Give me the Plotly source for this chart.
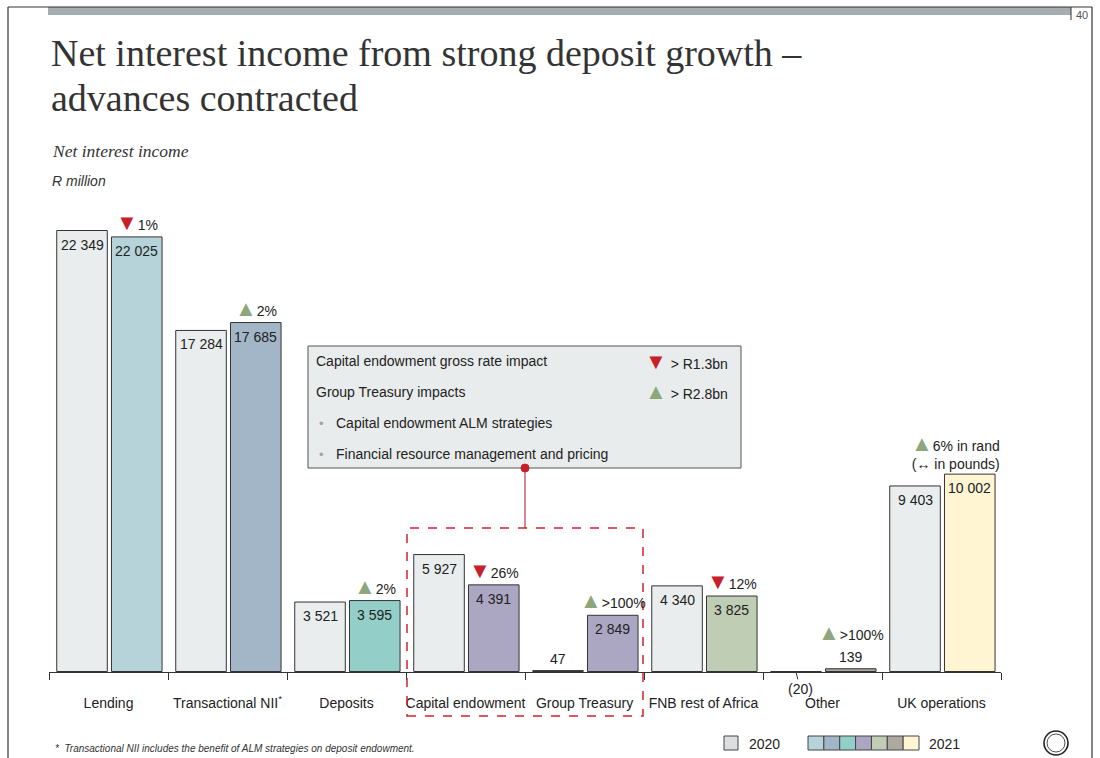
import plotly.graph_objects as go

# ---- data -------------------------------------------------------------
categories = ["Lending", "Transactional NII", "Deposits", "Capital endowment",
              "Group Treasury", "FNB rest of Africa", "Other", "UK operations"]
tick_labels = ["Lending", "Transactional NII<sup>*</sup>", "Deposits", "Capital endowment",
               "Group Treasury", "FNB rest of Africa", "Other", "UK operations"]
nii_2020 = [22349, 17284, 3521, 5927, 47, 4340, -20, 9403]
nii_2021 = [22025, 17685, 3595, 4391, 2849, 3825, 139, 10002]
change_dir = ["down", "up", "up", "down", "up", "down", "up", "up"]
change_text = ["1%", "2%", "2%", "26%", ">100%", "12%", ">100%",
               "6% in rand<br>(\u2194 in pounds)"]

callout_rows = ["Capital endowment gross rate impact", "Group Treasury impacts",
                "Capital endowment ALM strategies", "Financial resource management and pricing"]
callout_values = ["> R1.3bn", "> R2.8bn", "", ""]
callout_dirs = ["down", "up", "", ""]

# ---- styling ----------------------------------------------------------
color_2020 = "#E9EDED"
colors_2021 = ["#B5D3D8", "#A2B6C8", "#93CEC8", "#ABA6C2", "#ABA6C2",
               "#BECDB4", "#ADA9A0", "#FFF5D3"]
legend_2021 = ["#B5D3D8", "#A2B6C8", "#93CEC8", "#ABA6C2", "#BECDB4", "#ADA9A0", "#FFF5D3"]
RED = "#C8202A"
GREEN = "#8CA77B"
TEXT = "#222222"
SANS = "Liberation Sans, Arial, sans-serif"
SERIF = "Liberation Serif, DejaVu Serif, serif"
FS = 14

W = 1100
H = 758
PLOT_L, PLOT_R, PLOT_T, PLOT_B = 49, 1001, 100, 672
PX_PER_UNIT = 441 / 22349
Y_MIN = -25
Y_MAX = Y_MIN + (PLOT_B - PLOT_T) / PX_PER_UNIT

BAR_W = 0.425
OFF_20 = -0.435
OFF_21 = 0.025


def px(x):
    return (x - PLOT_L) / (PLOT_R - PLOT_L)


def py(y):
    return (PLOT_B - y) / (PLOT_B - PLOT_T)


def fmt(v):
    s = f"{abs(v):,}".replace(",", " ")
    return f"({s})" if v < 0 else s


def tri(d):
    if d == "down":
        return f'<span style="color:{RED};font-size:22px">\u25BC</span>'
    if d == "up":
        return f'<span style="color:{GREEN};font-size:22px">\u25B2</span>'
    return ""


fig = go.Figure()
fig.add_trace(go.Bar(
    x=categories, y=nii_2020, width=BAR_W, offset=OFF_20,
    marker=dict(color=color_2020, line=dict(color="#333333", width=1)),
    name="2020", hoverinfo="skip"))
fig.add_trace(go.Bar(
    x=categories, y=nii_2021, width=BAR_W, offset=OFF_21,
    marker=dict(color=colors_2021, line=dict(color="#333333", width=1)),
    name="2021", hoverinfo="skip"))

annotations = []
shapes = []

# value labels on each bar
for series, off in ((nii_2020, OFF_20), (nii_2021, OFF_21)):
    for i, v in enumerate(series):
        xc = i + off + BAR_W / 2
        if v < 0:
            annotations.append(dict(
                x=xc, y=v, xref="x", yref="y", text=fmt(v), showarrow=True,
                arrowhead=0, arrowwidth=1, arrowcolor="#333333", ax=4, ay=17,
                standoff=0, font=dict(family=SANS, size=FS, color=TEXT)))
        elif v < 600:
            annotations.append(dict(
                x=xc, y=v, xref="x", yref="y", text=fmt(v), showarrow=False,
                yanchor="bottom", yshift=2, font=dict(family=SANS, size=FS, color=TEXT)))
        else:
            annotations.append(dict(
                x=xc, y=v, xref="x", yref="y", text=fmt(v), showarrow=False,
                yanchor="top", yshift=-4, font=dict(family=SANS, size=FS, color=TEXT)))

# year-on-year change markers above the 2021 bars
for i, v in enumerate(nii_2021):
    xc = i + OFF_21 + BAR_W / 2
    shift = 22 if v < 600 else 0
    xshift = -14 if "<br>" in change_text[i] else 0
    annotations.append(dict(
        x=xc, y=v, xref="x", yref="y",
        text=tri(change_dir[i]) + change_text[i], showarrow=False,
        yanchor="bottom", yshift=shift, xshift=xshift, align="right",
        font=dict(family=SANS, size=FS, color=TEXT)))

# title block
annotations.append(dict(x=px(49), y=py(53), xref="paper", yref="paper", xanchor="left",
                        yanchor="middle", showarrow=False,
                        text="Net interest income from strong deposit growth \u2013",
                        font=dict(family=SERIF, size=38, color="#333333")))
annotations.append(dict(x=px(49), y=py(98), xref="paper", yref="paper", xanchor="left",
                        yanchor="middle", showarrow=False, text="advances contracted",
                        font=dict(family=SERIF, size=38, color="#333333")))
annotations.append(dict(x=px(50), y=py(151), xref="paper", yref="paper", xanchor="left",
                        yanchor="middle", showarrow=False, text="<i>Net interest income</i>",
                        font=dict(family=SERIF, size=17.5, color="#333333")))
annotations.append(dict(x=px(50), y=py(181), xref="paper", yref="paper", xanchor="left",
                        yanchor="middle", showarrow=False, text="<i>R million</i>",
                        font=dict(family=SANS, size=14, color="#333333")))

# page number
annotations.append(dict(x=px(1082), y=py(15), xref="paper", yref="paper", xanchor="center",
                        yanchor="middle", showarrow=False, text="40",
                        font=dict(family=SANS, size=11, color="#555555")))

# callout box
BOX_L, BOX_R, BOX_T, BOX_B = 308, 741, 346, 468
shapes.append(dict(type="rect", xref="paper", yref="paper", x0=px(BOX_L), x1=px(BOX_R),
                   y0=py(BOX_B), y1=py(BOX_T), fillcolor="#E9ECEC",
                   line=dict(color="#555555", width=1), layer="above"))
row_y = [361, 392, 423, 454]
for k, label in enumerate(callout_rows):
    if k < 2:
        annotations.append(dict(x=px(314), y=py(row_y[k]), xref="paper", yref="paper",
                                xanchor="left", yanchor="middle", showarrow=False, text=label,
                                font=dict(family=SANS, size=FS, color=TEXT)))
    else:
        annotations.append(dict(x=px(317), y=py(row_y[k]), xref="paper", yref="paper",
                                xanchor="left", yanchor="middle", showarrow=False,
                                text='<span style="color:#A0A4A6">\u2022</span>',
                                font=dict(family=SANS, size=13, color=TEXT)))
        annotations.append(dict(x=px(334), y=py(row_y[k]), xref="paper", yref="paper",
                                xanchor="left", yanchor="middle", showarrow=False, text=label,
                                font=dict(family=SANS, size=FS, color=TEXT)))
    if callout_values[k]:
        annotations.append(dict(x=px(730), y=py(row_y[k]), xref="paper", yref="paper",
                                xanchor="right", yanchor="middle", showarrow=False,
                                text=tri(callout_dirs[k]) + " " + callout_values[k],
                                font=dict(family=SANS, size=FS, color=TEXT)))

# dashed highlight around capital endowment and group treasury
shapes.append(dict(type="rect", xref="paper", yref="paper", x0=px(407), x1=px(643),
                   y0=py(716), y1=py(528), line=dict(color="#D0232B", width=1.5, dash="dash")))
shapes.append(dict(type="line", xref="paper", yref="paper", x0=px(525), x1=px(525),
                   y0=py(468), y1=py(528), line=dict(color="#9B1B22", width=1)))
shapes.append(dict(type="circle", xref="paper", yref="paper", x0=px(521), x1=px(529),
                   y0=py(472), y1=py(464), fillcolor=RED, line=dict(color=RED, width=1),
                   layer="above"))

# header band and page frame
shapes.append(dict(type="rect", xref="paper", yref="paper", x0=px(48), x1=px(1071),
                   y0=py(15), y1=py(7), fillcolor="#A5ADB1", line=dict(width=0)))
shapes.append(dict(type="line", xref="paper", yref="paper", x0=px(8), x1=px(1092),
                   y0=py(7), y1=py(7), line=dict(color="#333333", width=1.2)))
shapes.append(dict(type="line", xref="paper", yref="paper", x0=px(1071), x1=px(1071),
                   y0=py(7), y1=py(20), line=dict(color="#333333", width=1)))
shapes.append(dict(type="line", xref="paper", yref="paper", x0=px(1092), x1=px(1092),
                   y0=py(7), y1=py(760), line=dict(color="#333333", width=1.2)))
shapes.append(dict(type="line", xref="paper", yref="paper", x0=px(8), x1=px(8),
                   y0=py(7), y1=py(760), line=dict(color="#333333", width=1.2)))

# legend swatches
shapes.append(dict(type="rect", xref="paper", yref="paper", x0=px(724), x1=px(738),
                   y0=py(750), y1=py(736), fillcolor="#DCDFDF",
                   line=dict(color="#444444", width=1)))
annotations.append(dict(x=px(747), y=py(744), xref="paper", yref="paper", xanchor="left",
                        yanchor="middle", showarrow=False, text="2020",
                        font=dict(family=SANS, size=FS, color=TEXT)))
sw_x = 808
sw_w = 111 / len(legend_2021)
for j, c in enumerate(legend_2021):
    shapes.append(dict(type="rect", xref="paper", yref="paper",
                       x0=px(sw_x + j * sw_w), x1=px(sw_x + (j + 1) * sw_w),
                       y0=py(750), y1=py(736), fillcolor=c,
                       line=dict(color="#444444", width=1)))
annotations.append(dict(x=px(927), y=py(744), xref="paper", yref="paper", xanchor="left",
                        yanchor="middle", showarrow=False, text="2021",
                        font=dict(family=SANS, size=FS, color=TEXT)))

# emblem
shapes.append(dict(type="circle", xref="paper", yref="paper", x0=px(1044), x1=px(1068),
                   y0=py(755), y1=py(731), line=dict(color="#222222", width=1.6)))
shapes.append(dict(type="circle", xref="paper", yref="paper", x0=px(1047), x1=px(1065),
                   y0=py(752), y1=py(734), line=dict(color="#222222", width=0.8)))

# footnote
annotations.append(dict(x=px(53), y=py(748), xref="paper", yref="paper", xanchor="left",
                        yanchor="middle", showarrow=False,
                        text="<i>*  Transactional NII includes the benefit of ALM strategies on deposit endowment.</i>",
                        font=dict(family=SANS, size=10, color="#333333")))

fig.update_layout(
    width=W, height=H,
    margin=dict(l=PLOT_L, r=W - PLOT_R, t=PLOT_T, b=H - PLOT_B, autoexpand=False),
    paper_bgcolor="white", plot_bgcolor="white",
    showlegend=False, barmode="overlay",
    annotations=annotations, shapes=shapes,
    xaxis=dict(type="category", tickmode="array", tickvals=categories, ticktext=tick_labels,
               showline=True, linecolor="#333333", linewidth=1,
               ticks="outside", ticklen=7, tickcolor="#333333", tickwidth=1,
               tickson="boundaries", showgrid=False, zeroline=False,
               tickangle=0, automargin=False, ticklabelstandoff=18,
               tickfont=dict(family=SANS, size=FS, color=TEXT),
               range=[-0.5, len(categories) - 0.5]),
    yaxis=dict(range=[Y_MIN, Y_MAX], visible=False, showgrid=False, zeroline=False,
               automargin=False),
)

fig.write_html("out.html")
